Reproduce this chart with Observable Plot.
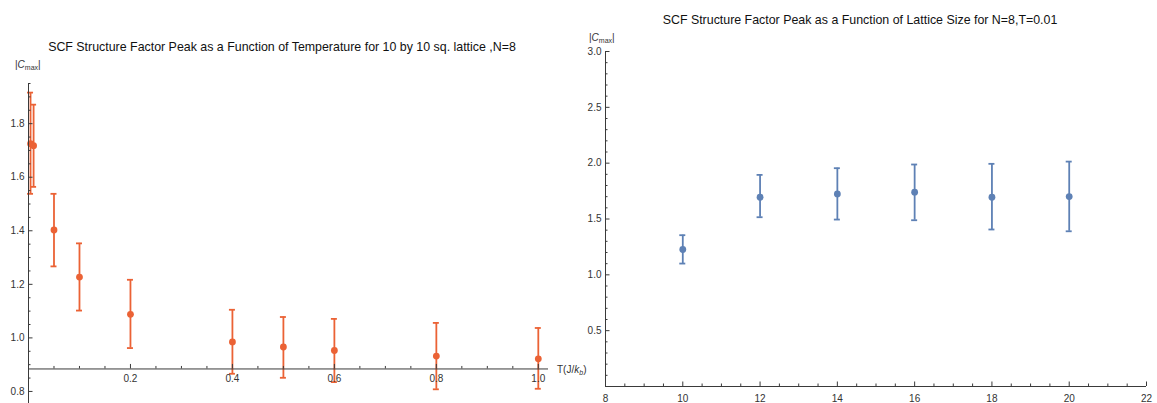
<!DOCTYPE html>
<html>
<head>
<meta charset="utf-8">
<script src="https://cdn.jsdelivr.net/npm/d3@7"></script>
<script src="https://cdn.jsdelivr.net/npm/@observablehq/plot@0.6"></script>
<style>
  html, body { margin: 0; padding: 0; background: #fff; }
  #wrap { position: relative; width: 1157px; height: 403px; background: #fff; font-family: "Liberation Sans", Arial, sans-serif; color: #222; overflow: hidden; }
  .abs { position: absolute; white-space: nowrap; }
  .title { font-size: 12.4px; line-height: 14px; color: #111; }
  .lab { font-size: 10px; line-height: 12px; color: #333; }
  .lab sub { font-size: 7px; vertical-align: -2px; }
  svg { overflow: visible; }
</style>
</head>
<body>
<div id="wrap">
  <div id="left" class="abs" style="left:0;top:0"></div>
  <div id="right" class="abs" style="left:560px;top:0"></div>
  <div class="abs title" style="left:282px;top:40px;transform:translateX(-50%)">SCF Structure Factor Peak as a Function of Temperature for 10 by 10 sq. lattice ,N=8</div>
  <div class="abs title" style="left:860px;top:13px;transform:translateX(-50%)">SCF Structure Factor Peak as a Function of Lattice Size for N=8,T=0.01</div>
  <div class="abs lab" style="left:15px;top:59px">|<i>C</i><sub>max</sub>|</div>
  <div class="abs lab" style="left:589px;top:32px">|<i>C</i><sub>max</sub>|</div>
  <div class="abs lab" style="left:557px;top:364px">T(J/<i>k</i><sub><i>b</i></sub>)</div>
</div>
<script>
// ---- Left chart data: temperature scan (10x10 lattice, N=8)
const tempT  = [0.004, 0.01, 0.05, 0.1, 0.2, 0.4, 0.5, 0.6, 0.8, 1.0];
const tempC  = [1.725, 1.718, 1.403, 1.227, 1.088, 0.985, 0.966, 0.953, 0.932, 0.922];
const tempLo = [1.538, 1.564, 1.267, 1.102, 0.962, 0.866, 0.851, 0.835, 0.808, 0.810];
const tempHi = [1.916, 1.871, 1.538, 1.353, 1.217, 1.105, 1.078, 1.071, 1.056, 1.037];

// ---- Right chart data: lattice size scan (N=8, T=0.01)
const sizeL  = [10, 12, 14, 16, 18, 20];
const sizeC  = [1.227, 1.695, 1.725, 1.740, 1.695, 1.701];
const sizeLo = [1.101, 1.516, 1.495, 1.489, 1.406, 1.390];
const sizeHi = [1.355, 1.895, 1.955, 1.988, 1.994, 2.014];

// ---- Tick values
const leftXMajor = [0.2, 0.4, 0.6, 0.8, 1.0];
const leftXMinor = [0.05, 0.1, 0.15, 0.25, 0.3, 0.35, 0.45, 0.5, 0.55, 0.65, 0.7, 0.75, 0.85, 0.9, 0.95];
const leftYMajor = [0.8, 1.0, 1.2, 1.4, 1.6, 1.8];
const leftYMinor = [0.85, 0.9, 0.95, 1.05, 1.1, 1.15, 1.25, 1.3, 1.35, 1.45, 1.5, 1.55, 1.65, 1.7, 1.75, 1.85, 1.9, 1.95];
const leftXDomain = [0, 1.02];
const leftYDomain = [0.755, 1.95];
const leftAxisY = 0.884;   // where the horizontal axis crosses
const leftAxisX = 0;

const rightXLabels = [8, 10, 12, 14, 16, 18, 20, 22];
const rightXMajor = [10, 12, 14, 16, 18, 20, 22];
const rightXMinor = [8.5, 9, 9.5, 10.5, 11, 11.5, 12.5, 13, 13.5, 14.5, 15, 15.5, 16.5, 17, 17.5, 18.5, 19, 19.5, 20.5, 21, 21.5];
const rightYMajor = [0.5, 1.0, 1.5, 2.0, 2.5, 3.0];
const rightYMinor = [0.1, 0.2, 0.3, 0.4, 0.6, 0.7, 0.8, 0.9, 1.1, 1.2, 1.3, 1.4, 1.6, 1.7, 1.8, 1.9, 2.1, 2.2, 2.3, 2.4, 2.6, 2.7, 2.8, 2.9];
const rightXDomain = [8, 22];
const rightYDomain = [0, 3];
const rightAxisY = 0;
const rightAxisX = 8;

const RED = "#EB6235";
const BLUE = "#5E81B5";
const AXIS = "#3a3a3a";
const LABEL = "#333";
const f1 = d3.format(".1f");

function axesMarks(ax, ay, xMaj, xMin, yMaj, yMin, xLabels, xFmt, labelDy) {
  return [
    Plot.ruleY([ay], {stroke: AXIS, strokeWidth: 1}),
    Plot.ruleX([ax], {stroke: AXIS, strokeWidth: 1}),
    // x ticks pointing up
    Plot.ruleX(xMaj, {x: d => d, y1: ay, y2: ay, insetTop: 0, insetBottom: 4.5, stroke: AXIS}),
    Plot.ruleX(xMin, {x: d => d, y1: ay, y2: ay, insetTop: 0, insetBottom: 2.5, stroke: AXIS}),
    // y ticks pointing right
    Plot.ruleY(yMaj, {y: d => d, x1: ax, x2: ax, insetLeft: 0, insetRight: -4.5, stroke: AXIS}),
    Plot.ruleY(yMin, {y: d => d, x1: ax, x2: ax, insetLeft: 0, insetRight: -2.5, stroke: AXIS}),
    Plot.axisY({ticks: yMaj, tickSize: 0, tickPadding: 4, tickFormat: f1, label: null, fontSize: 10, fill: LABEL}),
    Plot.text(xLabels, {x: d => d, y: ay, dy: labelDy, text: d => xFmt(d), fontSize: 10, fill: LABEL})
  ];
}

function errMarks(xs, cs, lo, hi, color) {
  const idx = d3.range(xs.length);
  return [
    Plot.ruleX(idx, {x: i => xs[i], y1: i => lo[i], y2: i => hi[i], stroke: color, strokeWidth: 1.8}),
    Plot.ruleY(idx, {y: i => hi[i], x1: i => xs[i], x2: i => xs[i], insetLeft: -3, insetRight: -3, stroke: color, strokeWidth: 1.8}),
    Plot.ruleY(idx, {y: i => lo[i], x1: i => xs[i], x2: i => xs[i], insetLeft: -3, insetRight: -3, stroke: color, strokeWidth: 1.8}),
    Plot.dot(idx, {x: i => xs[i], y: i => cs[i], r: 3.4, fill: color, stroke: "none"})
  ];
}

const left = Plot.plot({
  width: 560, height: 403,
  marginLeft: 28, marginRight: 12, marginTop: 83, marginBottom: 0,
  style: {background: "white", fontFamily: "Liberation Sans, Arial, sans-serif", overflow: "visible"},
  x: {domain: leftXDomain, axis: null},
  y: {domain: leftYDomain, axis: null},
  marks: [
    ...errMarks(tempT, tempC, tempLo, tempHi, RED),
    ...axesMarks(leftAxisX, leftAxisY, leftXMajor, leftXMinor, leftYMajor, leftYMinor, leftXMajor, f1, 10)
  ]
});
document.getElementById("left").appendChild(left);

const right = Plot.plot({
  width: 597, height: 403,
  marginLeft: 45, marginRight: 11, marginTop: 51, marginBottom: 17,
  style: {background: "transparent", fontFamily: "Liberation Sans, Arial, sans-serif", overflow: "visible"},
  x: {domain: rightXDomain, axis: null},
  y: {domain: rightYDomain, axis: null},
  marks: [
    ...errMarks(sizeL, sizeC, sizeLo, sizeHi, BLUE),
    ...axesMarks(rightAxisX, rightAxisY, rightXMajor, rightXMinor, rightYMajor, rightYMinor, rightXLabels, d3.format("d"), 12)
  ]
});
document.getElementById("right").appendChild(right);
</script>
</body>
</html>
